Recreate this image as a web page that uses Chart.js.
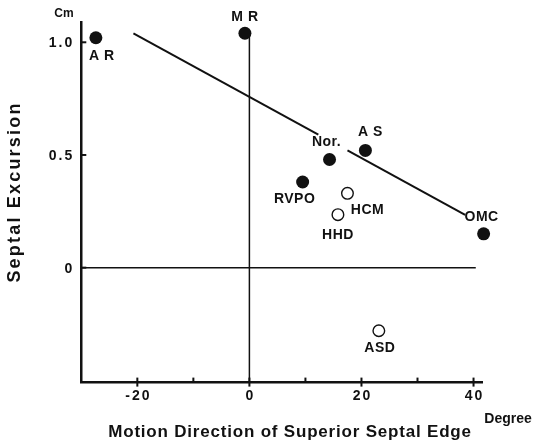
<!DOCTYPE html>
<html>
<head>
<meta charset="utf-8">
<script src="https://cdn.jsdelivr.net/npm/chart.js@4.4.1/dist/chart.umd.min.js"></script>
<style>
  html, body { margin: 0; padding: 0; background: #fff; }
  #wrap { width: 534px; height: 446px; }
</style>
</head>
<body>
<div id="wrap"><canvas id="septumChart" width="534" height="446"></canvas></div>
<script>
// filled circles
const filledNames = ['A R', 'M R', 'Nor.', 'A S', 'RVPO', 'OMC'];
const filledDirection = [-27.4, -0.8, 14.3, 20.7, 9.5, 41.8];
const filledExcursion = [1.02, 1.04, 0.48, 0.52, 0.38, 0.15];

// open circles
const openNames = ['HCM', 'HHD', 'ASD'];
const openDirection = [17.5, 15.8, 23.1];
const openExcursion = [0.33, 0.235, -0.28];

// regression line (broken where the "Nor." label sits on it)
const fitDirection = [-20.7, 12.3, 17.5, 38.5];
const fitExcursion = [1.04, 0.59, 0.52, 0.234];

// reference lines through zero
const verticalZeroY = [1.04, -0.51];
const horizontalZeroX = [-30, 40.4];

const xTicks = [-20, -10, 0, 10, 20, 30, 40];
const xTickLabels = ['-20', '', '0', '', '20', '', '40'];
const yTicks = [0, 0.5, 1.0];
const yTickLabels = ['0', '0.5', '1.0'];

// where each point's name sits, in pixels from the point
const labelOffsets = {
    'A R': [6, 18], 'M R': [0, -16], 'Nor.': [-3, -17], 'A S': [5, -18],
    'RVPO': [-8, 17], 'OMC': [-2, -17], 'HCM': [20, 17], 'HHD': [0, 20], 'ASD': [1, 17]
};

const FONT = '"Liberation Sans", Arial, sans-serif';

const textPlugin = {
    id: 'paperText',
    afterDraw(chart) {
        const ctx = chart.ctx;
        const xs = chart.scales.x, ys = chart.scales.y;
        const area = chart.chartArea;
        ctx.save();
        ctx.strokeStyle = '#111';
        ctx.fillStyle = '#111';

        // tick marks
        ctx.lineWidth = 2;
        xTicks.forEach((v, i) => {
            const px = xs.getPixelForValue(v);
            ctx.beginPath();
            ctx.moveTo(px, area.bottom - 5);
            ctx.lineTo(px, area.bottom + (xTickLabels[i] ? 4 : 0));
            ctx.stroke();
        });
        yTicks.forEach(v => {
            const py = ys.getPixelForValue(v);
            ctx.beginPath();
            ctx.moveTo(area.left, py);
            ctx.lineTo(area.left + 5, py);
            ctx.stroke();
        });

        // tick labels
        ctx.font = 'bold 14px ' + FONT;
        ctx.letterSpacing = '2px';
        ctx.textBaseline = 'middle';
        ctx.textAlign = 'center';
        xTicks.forEach((v, i) => {
            if (!xTickLabels[i]) return;
            ctx.fillText(xTickLabels[i], xs.getPixelForValue(v) + 1, area.bottom + 14);
        });
        ctx.textAlign = 'right';
        yTicks.forEach((v, i) => {
            ctx.fillText(yTickLabels[i], area.left - 7, ys.getPixelForValue(v) + 1);
        });

        // point names
        ctx.font = 'bold 14px ' + FONT;
        ctx.letterSpacing = '0.5px';
        ctx.textAlign = 'center';
        const putName = (name, x, y) => {
            const off = labelOffsets[name];
            ctx.fillText(name, xs.getPixelForValue(x) + off[0], ys.getPixelForValue(y) + off[1]);
        };
        filledNames.forEach((n, i) => putName(n, filledDirection[i], filledExcursion[i]));
        openNames.forEach((n, i) => putName(n, openDirection[i], openExcursion[i]));

        // units
        ctx.font = 'bold 12px ' + FONT;
        ctx.letterSpacing = '0px';
        ctx.fillText('Cm', 64, 14);
        ctx.font = 'bold 14px ' + FONT;
        ctx.fillText('Degree', 508, 419);

        // axis titles
        ctx.font = 'bold 17px ' + FONT;
        ctx.letterSpacing = '0.8px';
        ctx.fillText('Motion Direction of Superior Septal Edge', 290, 432);
        ctx.font = 'bold 18px ' + FONT;
        ctx.letterSpacing = '2.2px';
        ctx.translate(15, 192);
        ctx.rotate(-Math.PI / 2);
        ctx.fillText('Septal Excursion', 0, 0);
        ctx.restore();
    }
};

new Chart(document.getElementById('septumChart'), {
    type: 'scatter',
    data: {
        datasets: [
            {
                label: 'filled',
                data: filledDirection.map((x, i) => ({ x: x, y: filledExcursion[i] })),
                backgroundColor: '#111',
                borderColor: '#111',
                borderWidth: 0,
                pointRadius: 6.5,
                clip: false,
                order: 1
            },
            {
                label: 'open',
                data: openDirection.map((x, i) => ({ x: x, y: openExcursion[i] })),
                backgroundColor: '#fff',
                borderColor: '#111',
                borderWidth: 1.4,
                pointRadius: 5.8,
                clip: false,
                order: 1
            },
            {
                label: 'fit',
                type: 'line',
                data: fitDirection.map((x, i) => ({ x: x, y: fitExcursion[i] })),
                borderColor: '#111',
                borderWidth: 2,
                pointRadius: 0,
                segment: {
                    borderColor: c => c.p0DataIndex === 1 ? 'rgba(0,0,0,0)' : '#111'
                },
                order: 2
            },
            {
                label: 'x0',
                type: 'line',
                data: verticalZeroY.map(y => ({ x: 0, y: y })),
                borderColor: '#111',
                borderWidth: 1.5,
                pointRadius: 0,
                order: 3
            },
            {
                label: 'y0',
                type: 'line',
                data: horizontalZeroX.map(x => ({ x: x, y: 0 })),
                borderColor: '#111',
                borderWidth: 1.5,
                pointRadius: 0,
                order: 3
            }
        ]
    },
    options: {
        responsive: false,
        animation: false,
        events: [],
        layout: { padding: { left: 0, top: 22, right: 51.5, bottom: 0 } },
        plugins: {
            legend: { display: false },
            tooltip: { enabled: false }
        },
        scales: {
            x: {
                type: 'linear',
                min: -30,
                max: 41.6,
                grid: { display: false, drawTicks: false },
                border: { display: true, color: '#111', width: 2.5 },
                ticks: { display: false },
                afterFit: s => { s.height = 63.4; }
            },
            y: {
                type: 'linear',
                min: -0.51,
                max: 1.09,
                grid: { display: false, drawTicks: false },
                border: { display: true, color: '#111', width: 2.5 },
                ticks: { display: false },
                afterFit: s => { s.width = 81.3; }
            }
        }
    },
    plugins: [textPlugin]
});
</script>
</body>
</html>
